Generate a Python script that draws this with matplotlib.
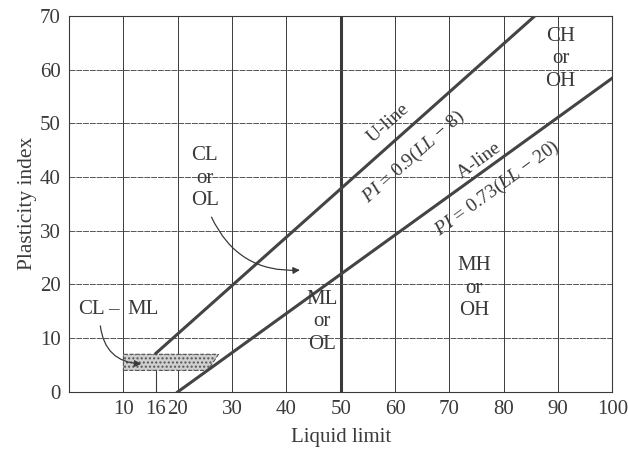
import numpy as np
import matplotlib.pyplot as plt
from matplotlib.patches import Polygon

plt.rcParams['font.family'] = ['Liberation Serif', 'DejaVu Serif']
plt.rcParams['mathtext.fontset'] = 'custom'
plt.rcParams['mathtext.rm'] = 'Liberation Serif'
plt.rcParams['mathtext.it'] = 'Liberation Serif:italic'

# Chart data
x_ticks = [10, 16, 20, 30, 40, 50, 60, 70, 80, 90, 100]
y_ticks = [0, 10, 20, 30, 40, 50, 60, 70]
u_line_ll = [16, 85.8]          # U-line: PI = 0.9(LL - 8)
a_line_ll = [20, 100]           # A-line: PI = 0.73(LL - 20)
clml_ll = [10, 25.5, 27.5, 10]  # CL-ML zone corners
clml_pi = [4, 4, 7, 7]

u_pi = [0.9 * (ll - 8) for ll in u_line_ll]
a_pi = [0.73 * (ll - 20) for ll in a_line_ll]

ink = '#3a3a3a'
fig = plt.figure(figsize=(6.28, 4.51), dpi=100)
ax = fig.add_axes([0.110, 0.131, 0.865, 0.834])
ax.set_xlim(0, 100)
ax.set_ylim(0, 70)

# grid
for x in range(10, 101, 10):
    lw = 2.2 if x == 50 else 0.7
    ax.axvline(x, color=ink, lw=lw, zorder=1)
for y in range(10, 71, 10):
    ax.axhline(y, color='#555555', lw=0.7, ls=(0, (6, 1)), zorder=1)
ax.plot([16, 16], [0, 7], color=ink, lw=0.8)

for s in ax.spines.values():
    s.set_color(ink)
    s.set_linewidth(0.8)

# CL-ML zone
ax.add_patch(Polygon(list(zip(clml_ll, clml_pi)), closed=True, facecolor='#d0d0d0',
                     edgecolor='#555555', hatch='....', lw=0.8, ls='--', zorder=2))

# U-line and A-line
ax.plot(u_line_ll, u_pi, color='#444444', lw=2.2, zorder=3)
ax.plot(a_line_ll, a_pi, color='#444444', lw=2.2, zorder=3)

fs = 15
ax.set_xticks(x_ticks)
ax.set_yticks(y_ticks)
ax.tick_params(length=0, labelsize=fs, colors=ink, pad=6)
ax.set_xlabel('Liquid limit', fontsize=15, color=ink, labelpad=6)
ax.set_ylabel('Plasticity index', fontsize=15.5, color=ink, labelpad=2)

tk = dict(fontsize=fs, color=ink, ha='center', va='center', linespacing=1.25)
ax.text(25, 39.8, 'CL\nor\nOL', **tk)
ax.text(90.5, 62, 'CH\nor\nOH', **tk)
ax.text(74.5, 19.3, 'MH\nor\nOH', **tk)
ax.text(46.5, 13.1, 'ML\nor\nOL', **tk)
ax.text(1.6, 15.3, 'CL', fontsize=fs, color=ink, ha='left', va='center')
ax.text(8.2, 15.3, '\u2013', fontsize=fs, color=ink, ha='center', va='center')
ax.text(10.8, 15.3, 'ML', fontsize=fs, color=ink, ha='left', va='center')

# line labels
ax.text(58.7, 50.0, 'U-line', fontsize=14, color=ink, rotation=41.5,
        ha='center', va='center')
ax.text(63.5, 43.8, r'$PI$ = 0.9($LL$ $-$ 8)', fontsize=14, color=ink,
        rotation=41.5, ha='center', va='center')
ax.text(75.6, 43.0, 'A-line', fontsize=14, color=ink, rotation=36,
        ha='center', va='center')
ax.text(78.8, 37.8, r'$PI$ = 0.73($LL$ $-$ 20)', fontsize=14, color=ink,
        rotation=36, ha='center', va='center')

# arrows
ax.annotate('', xy=(43, 22.7), xytext=(26, 33),
            arrowprops=dict(arrowstyle='-|>', color=ink, lw=0.9,
                            connectionstyle='arc3,rad=0.35'))
ax.annotate('', xy=(13.8, 5.2), xytext=(5.7, 12.8),
            arrowprops=dict(arrowstyle='-|>', color=ink, lw=0.9,
                            connectionstyle='arc3,rad=0.45'))

fig.savefig('out.png', dpi=100, facecolor='white')
